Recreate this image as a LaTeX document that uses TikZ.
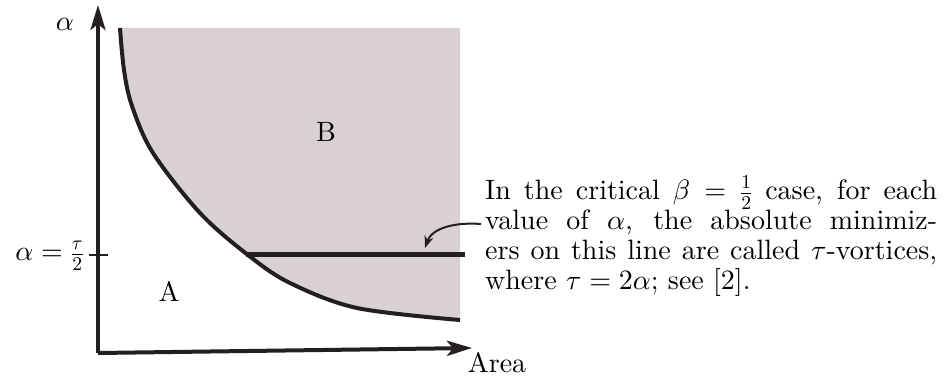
\documentclass[tikz,border=0pt]{standalone}
\usepackage{fontspec}
\setmainfont{lmroman10-regular.otf}[ItalicFont=lmroman10-italic.otf, BoldFont=lmroman10-bold.otf]
\DeclareFontShape{OT1}{cmr}{m}{n}{<->cmr10}{}
\DeclareFontShape{OML}{cmm}{m}{it}{<->cmmi10}{}
\DeclareFontShape{OMS}{cmsy}{m}{n}{<->cmsy10}{}
\usetikzlibrary{arrows.meta}
\definecolor{regionfill}{RGB}{216,208,210}
\definecolor{inkc}{RGB}{35,31,32}
\tikzset{
  axis/.style={line width=4pt, draw=inkc, -{Stealth[length=25pt,width=15pt,inset=6pt]}},
  bound/.style={line width=4pt, draw=inkc},
  lbl/.style={font=\fontsize{28}{32}\selectfont, inner sep=0pt},
  note/.style={font=\fontsize{28}{30}\selectfont, inner sep=0pt, text width=452pt, align=justify, anchor=north west},
}
\begin{document}
\begin{tikzpicture}[x=1pt,y=-1pt]
\useasboundingbox (0,0) rectangle (947,379);
\def\curvepts{(120,28) (124,70) (132,106) (153,153) (200,213) (248,255) (290,283) (357,308) (460,320)}
% shaded region B
\fill[regionfill] plot[smooth, tension=0.55] coordinates {\curvepts} -- (460,28) -- cycle;
% boundary curve
\draw[bound] plot[smooth, tension=0.55] coordinates {\curvepts};
% axes
\coordinate (O) at (98,353);
\coordinate (ytip) at (98,5);
\coordinate (xtip) at (472,348);
\draw[axis] (O) -- (ytip);
\draw[axis] (O) -- (xtip);
% horizontal line alpha = tau/2
\coordinate (hl) at (246,255);
\coordinate (hr) at (465,255);
\draw[line width=5pt, draw=inkc] (hl) -- (hr);
\coordinate (tl) at (89,255);
\coordinate (tr) at (108,255);
\draw[line width=2pt, draw=inkc] (tl) -- (tr);
% labels
\node[lbl] (alab) at (65,24) {$\alpha$};
\node[lbl, anchor=east] (tlab) at (84,256) {$\alpha=\frac{\tau}{2}$};
\node[lbl] (A) at (169,291) {A};
\node[lbl] (B) at (326,132) {B};
\node[lbl] (area) at (497,363) {Area};
% note
\node[note] (txt) at (485,176) {In the critical $\beta=\frac12$ case, for each\break value of $\alpha$, the absolute minimiz-\break ers on this line are called $\tau$-vortices,\break where $\tau=2\alpha$; see [2].};
\coordinate (as) at (481,224);
\coordinate (ae) at (425,248);
\draw[line width=2pt, draw=inkc, -{Stealth[length=12pt,width=9pt]}] (as) .. controls (455,222) and (432,228) .. (ae);
\end{tikzpicture}
\end{document}
